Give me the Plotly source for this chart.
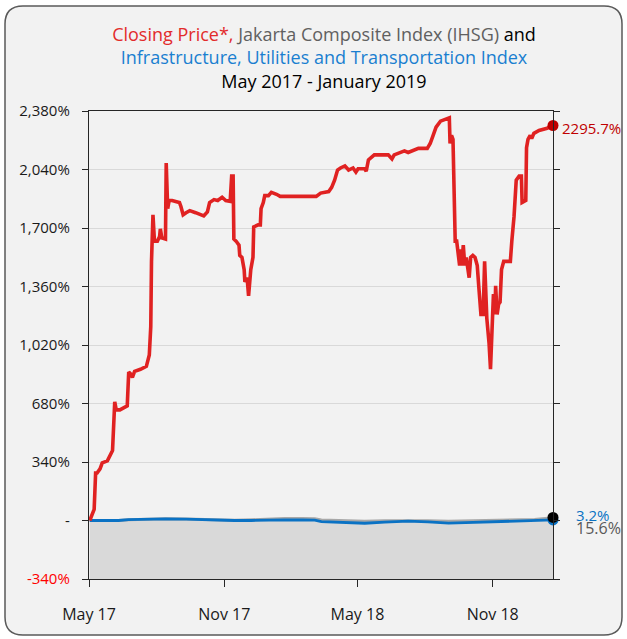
import plotly.graph_objects as go

# ---------------- data ----------------
red_dates = [
    "2017-05-02", "2017-05-08", "2017-05-10", "2017-05-12", "2017-05-16", "2017-05-19", "2017-05-26",
    "2017-05-31", "2017-06-02", "2017-06-05", "2017-06-07", "2017-06-12", "2017-06-22", "2017-06-24",
    "2017-06-26", "2017-06-29", "2017-07-02", "2017-07-10", "2017-07-18", "2017-07-22", "2017-07-24",
    "2017-07-25", "2017-07-27", "2017-07-29", "2017-08-02", "2017-08-05", "2017-08-06", "2017-08-08",
    "2017-08-13", "2017-08-14", "2017-08-16", "2017-08-18", "2017-08-22", "2017-08-28", "2017-09-01",
    "2017-09-03", "2017-09-06", "2017-09-10", "2017-09-15", "2017-09-23", "2017-09-29", "2017-10-04",
    "2017-10-09", "2017-10-12", "2017-10-18", "2017-10-23", "2017-10-29", "2017-11-03", "2017-11-09",
    "2017-11-11", "2017-11-13", "2017-11-14", "2017-11-17", "2017-11-21", "2017-11-22", "2017-11-25",
    "2017-11-28", "2017-11-29", "2017-12-02", "2017-12-04", "2017-12-07", "2017-12-10", "2017-12-11",
    "2017-12-17", "2017-12-20", "2017-12-21", "2017-12-24", "2017-12-26", "2017-12-31", "2018-01-04",
    "2018-01-11", "2018-01-16", "2018-03-06", "2018-03-12", "2018-03-23", "2018-03-27", "2018-03-31",
    "2018-04-04", "2018-04-08", "2018-04-14", "2018-04-19", "2018-04-25", "2018-04-29", "2018-05-02",
    "2018-05-11", "2018-05-13", "2018-05-16", "2018-05-20", "2018-05-24", "2018-06-12", "2018-06-17",
    "2018-06-20", "2018-06-28", "2018-07-04", "2018-07-09", "2018-07-15", "2018-07-23", "2018-08-04",
    "2018-08-08", "2018-08-12", "2018-08-16", "2018-08-22", "2018-08-28", "2018-09-03", "2018-09-04",
    "2018-09-06", "2018-09-08", "2018-09-11", "2018-09-13", "2018-09-15", "2018-09-17", "2018-09-19",
    "2018-09-20", "2018-09-22", "2018-09-24", "2018-09-26", "2018-09-27", "2018-09-30", "2018-10-02",
    "2018-10-05", "2018-10-08", "2018-10-11", "2018-10-13", "2018-10-16", "2018-10-19", "2018-10-21",
    "2018-10-24", "2018-10-27", "2018-10-29", "2018-10-31", "2018-11-02", "2018-11-04", "2018-11-05",
    "2018-11-07", "2018-11-09", "2018-11-11", "2018-11-13", "2018-11-16", "2018-11-25", "2018-11-27",
    "2018-11-30", "2018-12-03", "2018-12-07", "2018-12-10", "2018-12-11", "2018-12-16", "2018-12-17",
    "2018-12-19", "2018-12-22", "2018-12-24", "2018-12-27", "2019-01-03", "2019-01-14", "2019-01-22",
]
red_values = [
    0, 64, 276, 276, 300, 335, 347,
    394, 406, 690, 643, 643, 666, 863,
    855, 832, 867, 879, 896, 962, 1127,
    1506, 1777, 1624, 1624, 1650, 1695, 1643,
    1636, 2077, 1813, 1860, 1860, 1853, 1848,
    1825, 1777, 1789, 1801, 1789, 1777, 1770,
    1794, 1848, 1865, 1860, 1879, 1860, 1855,
    2002, 2002, 1636, 1624, 1600, 1541, 1529,
    1458, 1387, 1411, 1305, 1458, 1529, 1706,
    1718, 1718, 1813, 1848, 1888, 1888, 1907,
    1896, 1884, 1884, 1903, 1912, 1936, 1978,
    2037, 2049, 2061, 2037, 2049, 2025, 2044,
    2044, 2030, 2096, 2108, 2125, 2125, 2101,
    2125, 2139, 2148, 2139, 2148, 2163, 2163,
    2191, 2238, 2286, 2321, 2333, 2340, 2191,
    2238, 2215, 1624, 1624, 1541, 1482, 1576,
    1482, 1600, 1482, 1529, 1506, 1411, 1529,
    1541, 1529, 1482, 1364, 1198, 1198, 1506,
    1175, 1033, 879, 1127, 1316, 1198, 1364,
    1198, 1257, 1269, 1458, 1506, 1506, 1624,
    1766, 1978, 2002, 2002, 1848, 1860, 2167,
    2215, 2238, 2220, 2250, 2267, 2280, 2295.7,
]

index_dates = [
    "2017-05-02", "2017-05-20", "2017-06-10", "2017-06-24", "2017-07-15", "2017-08-13", "2017-09-10",
    "2017-10-01", "2017-10-25", "2017-11-15", "2017-12-08", "2018-01-05", "2018-01-22", "2018-02-15",
    "2018-03-04", "2018-03-13", "2018-04-05", "2018-04-25", "2018-05-11", "2018-06-07", "2018-07-09",
    "2018-08-05", "2018-09-02", "2018-09-25", "2018-10-22", "2018-11-15", "2018-12-06", "2018-12-28",
    "2019-01-22",
]
infra_values = [
    0, 0, 0, 5, 7, 10, 8,
    5, 2, 0, 0, 3, 4, 3,
    2, -6, -9, -12, -16, -10, -4,
    -8, -15, -12, -9, -8, -6, -3,
    3.2,
]
ihsg_values = [
    0, 0, 0, 5, 7, 10, 8,
    5, 3, 2, 4, 10, 12, 11,
    10, 3, 0, -2, -5, -1, 0,
    -2, -5, -3, -1, 0, 2, 6,
    15.6,
]
floor_values = [-340] * len(index_dates)

y_tick_values = [-340, 0, 340, 680, 1020, 1360, 1700, 2040, 2380]
y_tick_labels = ["<span style='color:#ff0000'>-340%</span>", "-", "340%", "680%", "1,020%",
                 "1,360%", "1,700%", "2,040%", "2,380%"]
x_tick_values = ["2017-05-01", "2017-11-01", "2018-05-01", "2018-11-01"]
x_tick_labels = ["May 17", "Nov 17", "May 18", "Nov 18"]
x_range = ["2017-05-01", "2019-01-22"]

# ---------------- styling ----------------
FONT = "Open Sans"
RED = "#e02222"
RED_DARK = "#c00000"
BLUE = "#0a72c4"
GREY_LINE = "#a8a8a8"
FILL = "#d9d9d9"

W, H = 627, 639
ML, MR, MT, MB = 89, 74, 111, 60
PW, PH = W - ML - MR, H - MT - MB


def px(x):
    return (x - ML) / PW


def py(y):
    return (H - MB - y) / PH


fig = go.Figure()

fig.add_trace(go.Scatter(x=index_dates, y=floor_values, mode="lines",
                         line=dict(width=0, color=FILL), hoverinfo="skip", showlegend=False))
fig.add_trace(go.Scatter(x=index_dates, y=ihsg_values, mode="lines", fill="tonexty",
                         fillcolor=FILL, line=dict(color=GREY_LINE, width=3),
                         name="IHSG", showlegend=False))
fig.add_trace(go.Scatter(x=index_dates, y=infra_values, mode="lines",
                         line=dict(color=BLUE, width=2.8), name="Infrastructure", showlegend=False))
fig.add_trace(go.Scatter(x=red_dates, y=red_values, mode="lines",
                         line=dict(color=RED, width=3.6), name="Closing Price", showlegend=False))

# end markers
fig.add_trace(go.Scatter(x=[index_dates[-1]], y=[infra_values[-1]], mode="markers",
                         marker=dict(color=BLUE, size=11), showlegend=False, cliponaxis=False))
fig.add_trace(go.Scatter(x=[index_dates[-1]], y=[ihsg_values[-1] + 2], mode="markers",
                         marker=dict(color="#000000", size=11), showlegend=False, cliponaxis=False))
fig.add_trace(go.Scatter(x=[red_dates[-1]], y=[red_values[-1]], mode="markers",
                         marker=dict(color=RED_DARK, size=11), showlegend=False, cliponaxis=False))

annotations = [
    dict(x=red_dates[-1], y=red_values[-1], xref="x", yref="y", text="2295.7%",
         showarrow=False, xanchor="left", yanchor="middle", xshift=7, yshift=-2,
         font=dict(family=FONT, size=15, color=RED_DARK)),
    dict(x=index_dates[-1], y=infra_values[-1], xref="x", yref="y", text="3.2%",
         showarrow=False, xanchor="left", yanchor="middle", xshift=21, yshift=5,
         font=dict(family=FONT, size=15, color=BLUE)),
    dict(x=index_dates[-1], y=infra_values[-1], xref="x", yref="y", text="15.6%",
         showarrow=False, xanchor="left", yanchor="middle", xshift=21, yshift=-8,
         font=dict(family=FONT, size=16, color="#595959")),
]

# rounded frame
L, T, R, B, r = 5, 6, 622, 635, 18
path = (
    f"M {px(L + r)} {py(T)} L {px(R - r)} {py(T)} Q {px(R)} {py(T)} {px(R)} {py(T + r)} "
    f"L {px(R)} {py(B - r)} Q {px(R)} {py(B)} {px(R - r)} {py(B)} "
    f"L {px(L + r)} {py(B)} Q {px(L)} {py(B)} {px(L)} {py(B - r)} "
    f"L {px(L)} {py(T + r)} Q {px(L)} {py(T)} {px(L + r)} {py(T)} Z"
)
shapes = [dict(type="path", xref="paper", yref="paper", path=path, layer="below",
               fillcolor="#f2f2f2", line=dict(color="#595959", width=1.5))]

title_text = (
    "<span style='color:#e22b2b'>Closing Price*,</span> "
    "<span style='color:#606060'>Jakarta Composite Index (IHSG)</span> "
    "<span style='color:#000000'>and</span><br>"
    "<span style='color:#1a7fd0'>Infrastructure, Utilities and Transportation Index</span><br>"
    "<span style='color:#000000'>May 2017 - January 2019</span>"
)

fig.update_layout(
    width=W, height=H,
    margin=dict(l=ML, r=MR, t=MT, b=MB, pad=0),
    paper_bgcolor="#ffffff",
    plot_bgcolor="#f2f2f2",
    showlegend=False,
    font=dict(family=FONT, size=15, color="#1a1a1a"),
    title=dict(text=title_text, x=324 / W, xanchor="center", y=1 - 41 / H, yanchor="top",
               yref="container", font=dict(family=FONT, size=18)),
    shapes=shapes,
    annotations=annotations,
)

fig.update_xaxes(
    range=x_range, type="date",
    tickvals=x_tick_values, ticktext=x_tick_labels,
    ticks="outside", ticklen=7, tickwidth=1.2, tickcolor="#262626",
    showgrid=False, zeroline=False,
    showline=True, linecolor="#262626", linewidth=1.3, mirror=True,
    tickfont=dict(family=FONT, size=16, color="#1a1a1a"),
    ticklabelstandoff=14,
)
fig.update_yaxes(
    range=[-340, 2380],
    tickvals=y_tick_values, ticktext=y_tick_labels,
    ticks="outside", ticklen=6, tickwidth=1.2, tickcolor="#262626",
    showgrid=True, gridcolor="#d9d9d9", gridwidth=1.3,
    zeroline=False,
    showline=True, linecolor="#262626", linewidth=1.3, mirror="ticks",
    tickfont=dict(family=FONT, size=15, color="#1a1a1a"),
    ticklabelstandoff=9,
)

fig.write_html("out.html", config={"displayModeBar": False},
               post_script="document.body.style.margin='0px';")
